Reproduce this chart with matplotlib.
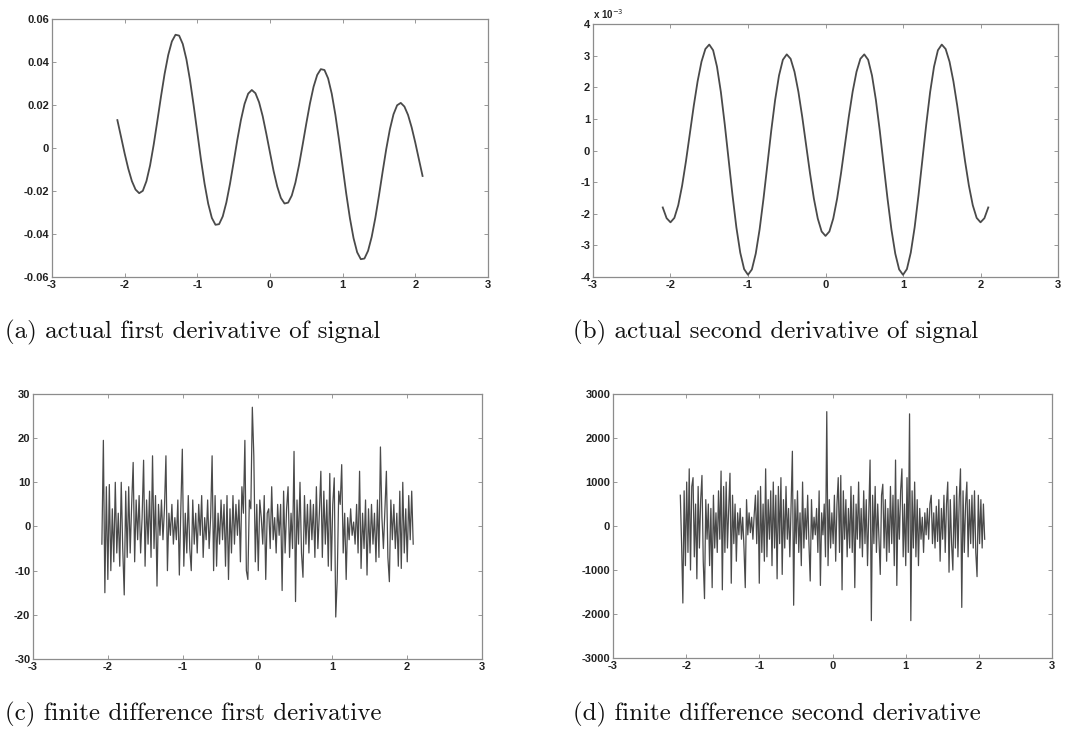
import numpy as np
import matplotlib
matplotlib.use("Agg")
import matplotlib.pyplot as plt
from matplotlib import ticker

plt.rcParams['axes.unicode_minus'] = False
plt.rcParams['font.family'] = ['Liberation Sans', 'DejaVu Sans']

# (a) actual first derivative, sampled every 0.05 from -2.1 to 2.1
x_smooth = np.round(np.arange(-2.10, 2.1001, 0.05), 2)
d1_actual = [
    0.0130, 0.0053, -0.0025, -0.0096, -0.0154, -0.0193, -0.0210, -0.0199, -0.0154, -0.0081,
    0.0016, 0.0126, 0.0239, 0.0345, 0.0433, 0.0496, 0.0527, 0.0523, 0.0484, 0.0413,
    0.0315, 0.0198, 0.0073, -0.0053, -0.0166, -0.0259, -0.0325, -0.0357, -0.0354, -0.0318,
    -0.0253, -0.0166, -0.0066, 0.0037, 0.0130, 0.0205, 0.0253, 0.0270, 0.0255, 0.0213,
    0.0148, 0.0066, -0.0021, -0.0107, -0.0179, -0.0232, -0.0258, -0.0254, -0.0221, -0.0161,
    -0.0079, 0.0016, 0.0114, 0.0207, 0.0285, 0.0340, 0.0367, 0.0363, 0.0324, 0.0253,
    0.0155, 0.0038, -0.0087, -0.0213, -0.0326, -0.0419, -0.0485, -0.0517, -0.0514, -0.0478,
    -0.0413, -0.0325, -0.0221, -0.0111, -0.0005, 0.0087, 0.0157, 0.0199, 0.0210, 0.0193,
    0.0154, 0.0096, 0.0025, -0.0053, -0.0130,
]

# (b) actual second derivative (units of 1e-3)
d2_actual = [
    -1.80, -2.14, -2.27, -2.13, -1.73, -1.11, -0.33, 0.54, 1.41, 2.19,
    2.81, 3.21, 3.35, 3.17, 2.65, 1.85, 0.83, -0.29, -1.41, -2.43,
    -3.23, -3.75, -3.93, -3.76, -3.26, -2.49, -1.52, -0.45, 0.63, 1.60,
    2.37, 2.87, 3.04, 2.90, 2.49, 1.86, 1.06, 0.17, -0.72, -1.52,
    -2.15, -2.56, -2.70, -2.56, -2.15, -1.52, -0.72, 0.17, 1.06, 1.86,
    2.49, 2.90, 3.04, 2.87, 2.37, 1.60, 0.63, -0.45, -1.52, -2.49,
    -3.26, -3.76, -3.93, -3.75, -3.23, -2.43, -1.41, -0.29, 0.83, 1.85,
    2.65, 3.17, 3.35, 3.21, 2.81, 2.19, 1.41, 0.54, -0.33, -1.11,
    -1.73, -2.13, -2.27, -2.14, -1.80,
]

# (c) finite difference first derivative
d1_fd = [
    -4, 19.5, -15, 9, -12, 9.5, -10, 4, -8, 10, -6, 3, -9, 10, -5, -15.5, 8, -7, 9, -6,
    5, 14.5, -8, 6, -3, 7, -6, 2, 15, -9, 6, -4, 8, -7, 16, -5, 7, -13.5, 5, -2,
    6, -3, 4, 16, -10, 3, -2, 5, -4, 2, -3, 6, -11, 4, 17.5, -9, 3, -6, 7, -5,
    -10, 6, -4, 3, -6, 5, -2, 7, -7, 2, -3, 6, -5, 2, 16, -10, 7, -9, 3, -4,
    6, -3, 5, -9, 7, -12, 4, -6, 7, -4, 5, -2, 6, -8, 9, 3, 19.5, -10, -12, 6,
    4, 27, 16, -8, 5, -10, 6, 2, -4, 7, -12, 3, 4, -5, 9, -3, 2, -6, 5, -2,
    5, -14.5, 8, -6, 4, 9, -7, 3, -5, 17, -17, 6, -4, 10, -6, -11.5, 7, -4, 5, -6,
    6, -3, 5, -7, 9, -5, 3, 12.5, -7, 8, -4, 6, -9, 12, -10, 5, 11, -20.5, -12, 8,
    5, 14, -6, 3, -12, 2, -3, 4, -2, 1, -4, 5, -6, 12.5, -9.5, 3, -5, 6, -11, 4,
    -6, 5, -4, 3, -8, 6, -7, 18, 2, -5, 4, 12.5, -7, -12.5, 6, -3, 5, -5, 3, -9,
    8, -9.5, 10, -6, 4, -8, 7, -3, 8, -4,
]

# (d) finite difference second derivative
d2_fd = [
    700, -400, -1750, 800, -900, 1000, -600, 1300, -1000, 900, 1100, -700, 500, -1200, 900, -500, 600, 1150, -800, -1650,
    600, -300, 500, -900, 400, -1400, 700, -500, 300, -600, 800, -300, 1250, -1450, 900, -600, 1000, -500, 400, 1200,
    -1300, 700, -400, 500, -800, 300, -200, 400, -300, 200, -500, -1400, 600, -200, 300, -150, 200, -300, 250, 700,
    -400, 800, -1300, 900, -600, 500, -800, 1300, -700, 600, -300, 800, -900, 1000, -500, 700, -1200, 900, -400, 1100,
    -1100, 600, -500, 900, -300, 400, -700, 500, 1700, -1800, 600, -400, 800, -600, 300, -900, 1000, -500, 400, -300,
    700, -400, -1250, 600, -300, 200, -200, 400, -600, 800, -1350, 300, -200, 500, -700, 2600, -900, 600, -500, 300,
    -400, 700, -800, 500, 1100, -600, 1150, -1450, 800, -300, 600, -700, 400, -500, 900, -600, 700, -1400, 500, -300,
    1000, -500, 400, -700, 800, -400, 600, -900, 300, 1500, -2150, 700, -400, 900, -600, 500, -300, -1100, 700, 950,
    -500, 600, -800, 400, -600, 900, -400, 700, -900, 1500, -1350, 600, -300, 800, 1300, -700, 500, -900, 1100, -600,
    2550, -2150, 800, -500, 1000, -700, 600, -900, 400, -300, 200, -600, 300, -200, 400, -300, 500, 700, -400, 300,
    -500, 450, -350, 600, -800, 400, -300, 700, -600, 500, 1000, -1050, 600, -400, -1000, 700, -500, 900, -700, 600,
    1300, -1850, 800, -600, 500, 1000, -700, 600, -400, 700, -500, 800, -600, -1150, 700, -400, 600, -500, 500, -300,
]

x_fd1 = np.linspace(-2.08, 2.08, len(d1_fd))
x_fd2 = np.linspace(-2.08, 2.08, len(d2_fd))

captions = [
    "(a) actual first derivative of signal",
    "(b) actual second derivative of signal",
    "(c) finite difference first derivative",
    "(d) finite difference second derivative",
]


def style(ax, yticks):
    ax.set_xlim(-3, 3)
    ax.set_xticks([-3, -2, -1, 0, 1, 2, 3])
    ax.set_ylim(yticks[0], yticks[-1])
    ax.set_yticks(yticks)
    ax.yaxis.set_major_formatter(ticker.FormatStrFormatter('%g'))
    ax.tick_params(direction='in', length=3, width=0.6, color='#888888',
                   top=True, right=True, labelsize=8, pad=2, labelcolor='#222222')
    for lab in ax.get_xticklabels() + ax.get_yticklabels():
        lab.set_fontweight('bold')
    for sp in ax.spines.values():
        sp.set_color('#8c8c8c')
        sp.set_linewidth(0.9)


fig = plt.figure(figsize=(10.76, 7.30), dpi=100)

line_col = '#4a4a4a'

ax = fig.add_axes([0.0483, 0.6205, 0.4052, 0.3534])
ax.plot(x_smooth, d1_actual, color=line_col, lw=1.3)
style(ax, [-0.06, -0.04, -0.02, 0, 0.02, 0.04, 0.06])

ax = fig.add_axes([0.5511, 0.6205, 0.4322, 0.3466])
ax.plot(x_smooth, d2_actual, color=line_col, lw=1.3)
style(ax, [-4, -3, -2, -1, 0, 1, 2, 3, 4])
ax.text(0.0, 1.012, r'x 10$^{-3}$', transform=ax.transAxes, fontsize=7,
        fontweight='bold', color='#222222', ha='left', va='bottom')

ax = fig.add_axes([0.0307, 0.0973, 0.4173, 0.3630])
ax.plot(x_fd1, d1_fd, color=line_col, lw=0.9)
style(ax, [-30, -20, -10, 0, 10, 20, 30])

ax = fig.add_axes([0.5697, 0.0986, 0.4080, 0.3616])
ax.plot(x_fd2, d2_fd, color=line_col, lw=0.9)
style(ax, [-3000, -2000, -1000, 0, 1000, 2000, 3000])

cap_pos = [(5, 332), (573, 332), (5, 714), (573, 714)]
for (px, py), text in zip(cap_pos, captions):
    fig.text(px / 1076, 1 - py / 730, text, family='cmr10', fontsize=18,
             va='center', ha='left', color='#111111')

fig.savefig('out.png', dpi=100)
